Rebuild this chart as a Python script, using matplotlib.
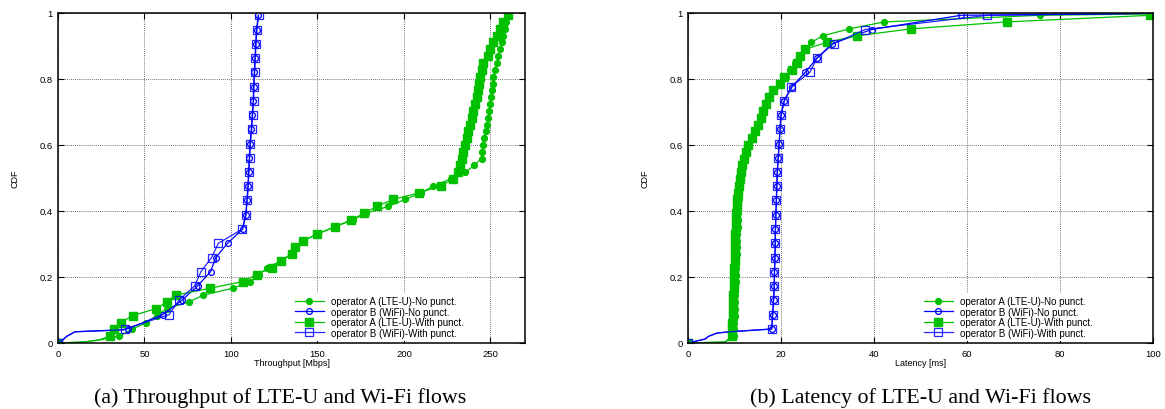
import matplotlib
matplotlib.use("Agg")
import matplotlib.pyplot as plt

plt.rcParams['font.family'] = ['Liberation Sans', 'DejaVu Sans']

GREEN = '#00c000'
BLUE = '#0000ff'

labels = ['operator A (LTE-U)-No punct.', 'operator B (WiFi)-No punct.',
          'operator A (LTE-U)-With punct.', 'operator B (WiFi)-With punct.']

# ---- Throughput [Mbps] ----
tput_a_nopunct_x = [0, 15, 25, 35.5, 42.6, 51, 57, 62.8, 75.5, 84, 101, 111, 116, 121, 128.5, 134.5,
                    137.5, 142, 150.5, 160, 170.5, 178, 191, 200.6, 210, 217, 227, 235.5, 240.5, 244.9,
                    245.3, 245.8, 246.2, 247.2, 248.2, 248.7, 249.3, 249.7, 250.1, 250.7, 251.3, 251.7,
                    252.6, 253.6, 254.5, 255.5, 256.5, 257.4, 258.4, 259.3, 260.3]
tput_a_punct_x = [0, 15, 24, 30, 32.6, 36.4, 43.2, 56.6, 62.8, 68, 87.9, 106.7, 114.8, 123.5, 129, 135,
                  137.2, 141.8, 150, 160, 169.5, 177, 184.2, 193.8, 208.7, 221.4, 228.5, 231.4, 232.4,
                  233.4, 234.3, 235.3, 236.2, 237.2, 238.2, 239.1, 240.1, 241, 242, 243, 243.5, 243.9,
                  244.9, 245.8, 248.7, 249.7, 251.7, 253.6, 255.5, 257.4, 260]
tput_a_y = [0, 0.003, 0.010, 0.021, 0.041, 0.062, 0.083, 0.104, 0.124, 0.145, 0.166, 0.186, 0.207,
            0.228, 0.248, 0.269, 0.290, 0.310, 0.331, 0.352, 0.373, 0.393, 0.414, 0.435, 0.455, 0.476,
            0.497, 0.517, 0.538, 0.559, 0.579, 0.600, 0.621, 0.642, 0.662, 0.683, 0.704, 0.724, 0.745,
            0.766, 0.786, 0.807, 0.828, 0.849, 0.869, 0.890, 0.911, 0.931, 0.952, 0.973, 0.993]

tput_b_nopunct_x = [0, 2, 5, 9.8, 38, 40.3, 60.5, 71.8, 80.7, 88.2, 91.2, 98, 106.7, 108.5, 109.2,
                    109.8, 110.2, 110.6, 111, 111.8, 112.3, 112.9, 113.1, 113.5, 113.9, 114.3, 114.8, 115.8]
tput_b_punct_x = [0, 2, 5, 9.8, 37, 39, 64.2, 70, 79, 82.6, 88.8, 92.7, 106.5, 108.7, 109.4, 110,
                  110.4, 110.8, 111.2, 112, 112.5, 113.1, 113.3, 113.7, 114.1, 114.5, 115, 116]
tput_b_y = [0, 0.006, 0.020, 0.034, 0.040, 0.043, 0.086, 0.130, 0.173, 0.216, 0.259, 0.302, 0.345,
            0.388, 0.432, 0.475, 0.518, 0.561, 0.604, 0.648, 0.691, 0.734, 0.777, 0.820, 0.863,
            0.907, 0.950, 0.993]

# ---- Latency [ms] ----
lat_a_nopunct_x = [0, 8, 9.8, 9.9, 9.95, 10.0, 10.05, 10.1, 10.15, 10.2, 10.25, 10.3, 10.35, 10.4,
                   10.45, 10.5, 10.55, 10.6, 10.65, 10.7, 10.75, 10.8, 10.9, 11.0, 11.2, 11.4, 11.6,
                   11.9, 12.3, 12.7, 13.2, 13.8, 14.5, 15.1, 15.7, 16.3, 16.9, 17.6, 18.5, 19.8, 21.0,
                   22.0, 23.0, 24.0, 25.2, 26.5, 29.0, 34.7, 42.2, 75.6, 99]
lat_a_nopunct_y = [0, 0.003, 0.021, 0.041, 0.062, 0.083, 0.104, 0.124, 0.145, 0.166, 0.186, 0.207,
                   0.228, 0.248, 0.269, 0.290, 0.310, 0.331, 0.352, 0.373, 0.393, 0.414, 0.435, 0.455,
                   0.476, 0.497, 0.517, 0.538, 0.559, 0.579, 0.600, 0.621, 0.642, 0.662, 0.683, 0.704,
                   0.724, 0.745, 0.766, 0.786, 0.807, 0.828, 0.849, 0.869, 0.890, 0.911, 0.931, 0.952,
                   0.973, 0.993, 0.997]
lat_a_punct_x = [0, 8, 9.4, 9.5, 9.55, 9.6, 9.65, 9.7, 9.75, 9.8, 9.85, 9.9, 9.95, 10.0, 10.05, 10.1,
                 10.15, 10.2, 10.25, 10.3, 10.4, 10.45, 10.55, 10.8, 11.0, 11.2, 11.4, 11.7, 12.0, 12.5,
                 13.0, 13.7, 14.4, 15.0, 15.7, 16.2, 16.8, 17.4, 18.3, 19.7, 20.6, 22.3, 23.4, 24.1,
                 25.2, 29.8, 36.3, 48, 68.5, 99.4]
lat_a_punct_y = lat_a_nopunct_y[:-1]

lat_b_nopunct_x = [0, 3.7, 4.4, 6.2, 9, 17.6, 18, 18.2, 18.4, 18.55, 18.6, 18.7, 18.75, 18.8, 18.9,
                   19.0, 19.1, 19.2, 19.4, 19.6, 19.8, 20.0, 20.7, 22.4, 25.2, 27.7, 31, 39.5, 58.7, 100]
lat_b_punct_x = [0, 3.7, 4.4, 6.2, 9, 17.6, 18, 18.2, 18.4, 18.55, 18.6, 18.7, 18.75, 18.8, 18.9,
                 19.0, 19.1, 19.2, 19.4, 19.6, 19.8, 20.0, 20.7, 22.2, 26.2, 27.7, 31.3, 38.1, 64.4, 100]
lat_b_y = [0, 0.012, 0.020, 0.030, 0.034, 0.042, 0.043, 0.086, 0.130, 0.173, 0.216, 0.259, 0.302,
           0.345, 0.388, 0.432, 0.475, 0.518, 0.561, 0.604, 0.648, 0.691, 0.734, 0.777, 0.820, 0.863,
           0.907, 0.950, 0.993, 0.999]


def marks(n, lead, tail=0):
    # points after the first one that only shape the line carry no marker
    return [0] + list(range(1 + lead, n - tail))


def style_axes(ax, xmax, xticks, xlabel):
    ax.set_xlim(0, xmax)
    ax.set_ylim(0, 1)
    ax.set_xticks(xticks)
    ax.set_yticks([0, 0.2, 0.4, 0.6, 0.8, 1])
    ax.set_yticklabels(['0', '0.2', '0.4', '0.6', '0.8', '1'])
    ax.tick_params(direction='in', top=True, right=True, length=4, width=0.8,
                   labelsize=6.8, pad=4)
    ax.grid(True, color='#444444', linestyle=(0, (1, 1.5)), linewidth=0.6)
    ax.set_axisbelow(True)
    for s in ax.spines.values():
        s.set_linewidth(1.1)
    ax.set_xlabel(xlabel, fontsize=6.5, labelpad=0)
    ax.set_ylabel('CDF', fontsize=6.5, labelpad=14)
    leg = ax.legend(loc='lower left', bbox_to_anchor=(0.495, 0.0), fontsize=7, frameon=True,
                    handlelength=3.0, handletextpad=0.8, labelspacing=0.05,
                    borderpad=0.3, borderaxespad=0.25)
    leg.get_frame().set_edgecolor('none')
    leg.get_frame().set_facecolor('white')
    leg.get_frame().set_alpha(1)


def draw_panel(ax, a_no, b_no, a_pu, b_pu):
    (x1, y1, m1), (x2, y2, m2), (x3, y3, m3), (x4, y4, m4) = a_no, b_no, a_pu, b_pu
    ax.plot(x1, y1, color=GREEN, lw=0.9, marker='o', ms=4.2, markevery=m1, label=labels[0])
    ax.plot(x2, y2, color=BLUE, lw=0.9, marker='o', ms=4.2, mfc='none', mew=0.9,
            markevery=m2, label=labels[1])
    ax.plot(x3, y3, color=GREEN, lw=0.9, marker='s', ms=5.2, markevery=m3, label=labels[2])
    ax.plot(x4, y4, color=BLUE, lw=0.9, marker='s', ms=5.2, mfc='none', mew=0.9, alpha=0.85,
            markevery=m4, label=labels[3])


fig = plt.figure(figsize=(11.65, 4.10), dpi=100)
ax1 = fig.add_axes([58 / 1165, 66 / 410, 467 / 1165, 330 / 410])
ax2 = fig.add_axes([688 / 1165, 66 / 410, 465 / 1165, 330 / 410])

draw_panel(ax1,
           (tput_a_nopunct_x, tput_a_y, marks(len(tput_a_y), 2)),
           (tput_b_nopunct_x, tput_b_y, marks(len(tput_b_y), 4)),
           (tput_a_punct_x, tput_a_y, marks(len(tput_a_y), 2)),
           (tput_b_punct_x, tput_b_y, marks(len(tput_b_y), 4)))
style_axes(ax1, 270, [0, 50, 100, 150, 200, 250], 'Throughput [Mbps]')

draw_panel(ax2,
           (lat_a_nopunct_x, lat_a_nopunct_y, marks(len(lat_a_nopunct_y), 1, 1)),
           (lat_b_nopunct_x, lat_b_y, marks(len(lat_b_y), 5, 1)),
           (lat_a_punct_x, lat_a_punct_y, marks(len(lat_a_punct_y), 1)),
           (lat_b_punct_x, lat_b_y, marks(len(lat_b_y), 5, 1)))
style_axes(ax2, 100, [0, 20, 40, 60, 80, 100], 'Latency [ms]')

fig.text(280 / 1165, 1 - 398 / 410, '(a) Throughput of LTE-U and Wi-Fi flows',
         family='Liberation Serif', fontsize=15.8, ha='center', va='center')
fig.text(920 / 1165, 1 - 398 / 410, '(b) Latency of LTE-U and Wi-Fi flows',
         family='Liberation Serif', fontsize=15.8, ha='center', va='center')

fig.savefig('out.png', dpi=100)
